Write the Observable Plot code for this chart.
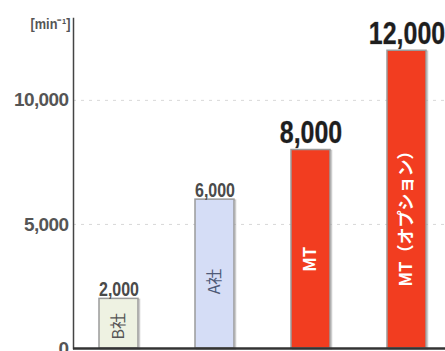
<!DOCTYPE html>
<html>
<head>
<meta charset="utf-8">
<script src="https://cdn.jsdelivr.net/npm/d3@7"></script>
<script src="https://cdn.jsdelivr.net/npm/@observablehq/plot@0.6"></script>
<style>
  body { margin: 0; background: #fff; }
  #chart svg { display: block; }
  .tick-num text { letter-spacing: -0.6px; }
</style>
</head>
<body>
<div id="chart"></div>
<script>
const categories = ["B社", "A社", "MT", "MT（オプション）"];
const values = [2000, 6000, 8000, 12000];
const groups = ["other", "other", "mt", "mt"];
const fills = ["#eef2e2", "#d5ddf6", "#f23d20", "#f23d20"];
const innerColors = ["#555555", "#4f5a78", "#ffffff", "#ffffff"];
const yTicks = [0, 5000, 10000];
const unitLabel = "[min⁻¹]";

const data = categories.map((c, i) => ({
  cat: c, value: values[i], group: groups[i], fill: fills[i], ink: innerColors[i]
}));
const fmt = d3.format(",");
const numFont = "'Liberation Sans', Arial, sans-serif";
const jpFont = "'Noto Sans CJK JP', sans-serif";

const plot = Plot.plot({
  width: 445,
  height: 351,
  marginLeft: 73,
  marginRight: 0,
  marginTop: 18,
  marginBottom: 3,
  x: { domain: categories, paddingInner: 0.595, paddingOuter: 0.229, align: 0.57, axis: null },
  y: { domain: [0, 13300], axis: null, label: null },
  marks: [
    Plot.gridY(yTicks.filter(t => t > 0), { stroke: "#c8c8c8", strokeOpacity: 0.7, strokeDasharray: "3,5" }),
    Plot.barY(data, { x: "cat", y: "value", fill: "none", stroke: "#9a9a9a", strokeWidth: 1.5, dx: 1.5, dy: 1, strokeOpacity: 0.5 }),
    Plot.barY(data, { x: "cat", y: "value", fill: "fill", stroke: "#9a9a9a", strokeWidth: 1.5 }),
    Plot.text(data.filter(d => d.group === "other"), {
      x: "cat", y: d => d.value * 0.45, text: "cat", rotate: -90,
      fill: "ink", fontSize: 16, fontFamily: jpFont
    }),
    Plot.text(data.filter(d => d.group === "mt"), {
      x: "cat", y: d => d.value * 0.45, text: "cat", rotate: -90,
      fill: "ink", fontSize: 17, fontWeight: "bold", fontFamily: jpFont
    }),
    Plot.text(data.filter(d => d.group === "other"), {
      x: "cat", y: "value", text: d => fmt(d.value), lineAnchor: "bottom", dy: -3,
      fontSize: 19.5, fontWeight: "bold", fill: "#4a4a4a", fontFamily: numFont, className: "condense small-num"
    }),
    Plot.text(data.filter(d => d.group === "mt"), {
      x: "cat", y: "value", text: d => fmt(d.value), lineAnchor: "bottom", dy: -7,
      fontSize: 32, fontWeight: "bold", fill: "#1e1e1e", stroke: "#9a9a9a", strokeWidth: 0.6,
      fontFamily: numFont, className: "condense big-num"
    }),
    Plot.axisY(yTicks, {
      tickSize: 0, tickPadding: 5, tickFormat: fmt, label: null,
      fontSize: 19, fontWeight: "bold", fill: "#555", fontFamily: numFont, className: "tick-num"
    }),
    Plot.frame({ anchor: "left", stroke: "#444", strokeWidth: 1.5 }),
    Plot.ruleY([0], { stroke: "#333", strokeWidth: 2.5 }),
    Plot.text([unitLabel], {
      frameAnchor: "top-left", text: d => d, dx: -3, dy: 0, textAnchor: "end", lineAnchor: "top",
      fontSize: 15, fontWeight: "bold", fill: "#555", fontFamily: numFont, className: "condense unit"
    })
  ]
});
document.getElementById("chart").appendChild(plot);

// Condense number glyphs horizontally (the original uses a narrow bold face).
const scales = { "big-num": 0.78, "small-num": 0.82, "unit": 0.85 };
for (const [cls, s] of Object.entries(scales)) {
  plot.querySelectorAll(`g.${cls} text`).forEach(t => {
    const ax = parseFloat(t.getAttribute("x")) || 0;
    const prev = t.getAttribute("transform") || "";
    t.setAttribute("transform", `${prev} translate(${ax},0) scale(${s},1) translate(${-ax},0)`.trim());
  });
}
</script>
</body>
</html>
